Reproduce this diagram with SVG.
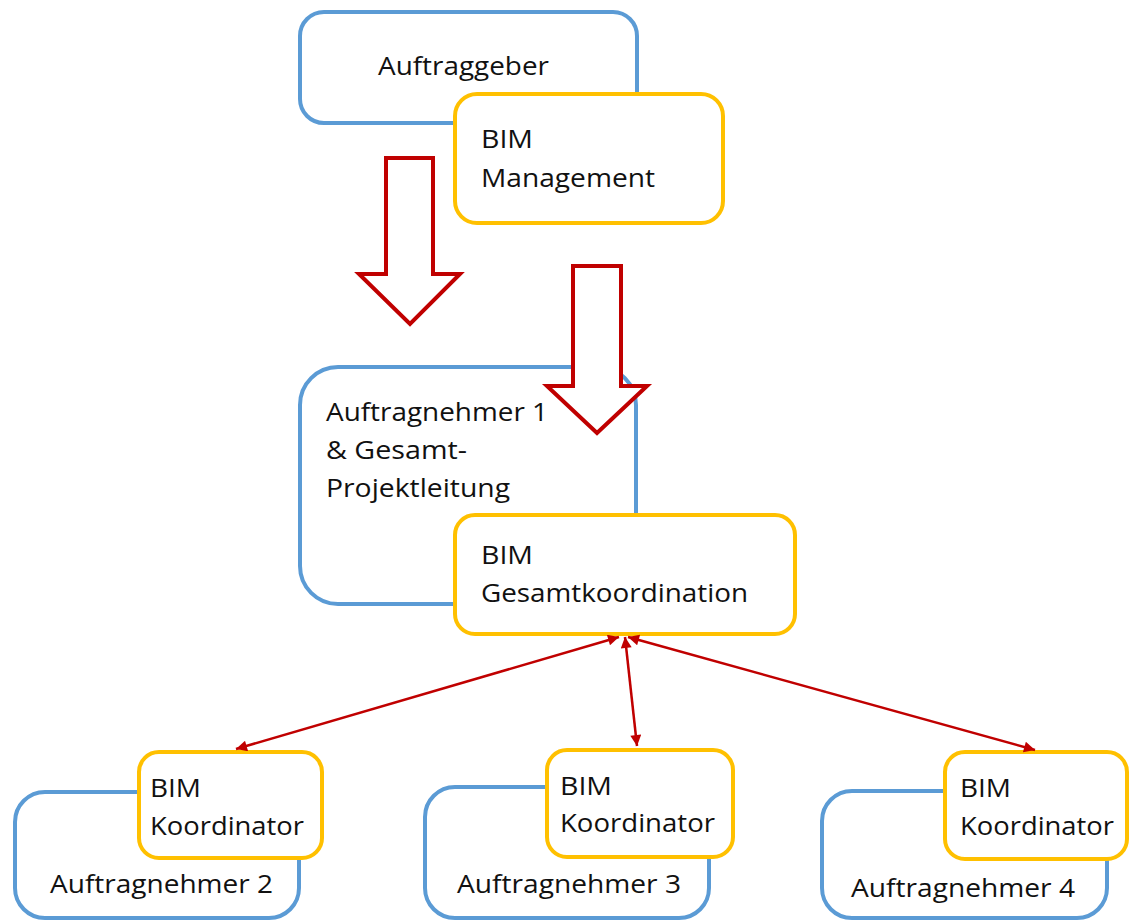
<svg xmlns="http://www.w3.org/2000/svg" width="1132" height="922" viewBox="0 0 1132 922">
<style>
.blue{fill:#fff;stroke:#5B9BD5;stroke-width:4}
.yel{fill:#fff;stroke:#FFC000;stroke-width:4}
.blk{fill:#fff;stroke:#C00000;stroke-width:4;stroke-linejoin:miter}
.t{font-family:"Open Sans","Noto Sans","Liberation Sans",sans-serif;font-size:26px;fill:#111}
.con{stroke:#C00000;stroke-width:2.5;fill:none}
</style>
<defs>
<marker id="ah" viewBox="0 0 10 10" refX="10" refY="5" markerWidth="14" markerHeight="11" markerUnits="userSpaceOnUse" orient="auto-start-reverse">
<path d="M0,0 L10,5 L0,10 z" fill="#C00000"/>
</marker>
</defs>
<rect width="1132" height="922" fill="#fff"/>
<g id="auftraggeber">
<rect class="blue" x="300" y="12" width="337" height="111" rx="24"/>
<text class="t" x="378" y="75" textLength="171" lengthAdjust="spacingAndGlyphs">Auftraggeber</text>
</g>
<g id="bim-management">
<rect class="yel" x="455" y="94" width="268" height="129" rx="22"/>
<text class="t" x="481" y="148" textLength="52" lengthAdjust="spacingAndGlyphs">BIM</text>
<text class="t" x="481" y="187" textLength="174" lengthAdjust="spacingAndGlyphs">Management</text>
</g>
<g id="auftragnehmer1">
<rect class="blue" x="300" y="367" width="336" height="237" rx="38"/>
<text class="t" x="326" y="421" textLength="222" lengthAdjust="spacingAndGlyphs">Auftragnehmer 1</text>
<text class="t" x="326" y="459" textLength="141" lengthAdjust="spacingAndGlyphs">&amp; Gesamt-</text>
<text class="t" x="326" y="497" textLength="184" lengthAdjust="spacingAndGlyphs">Projektleitung</text>
</g>
<g id="block-arrows">
<polygon class="blk" points="386,158 433,158 433,274 460,274 410,324 359,274 386,274"/>
<polygon class="blk" points="573,266 621,266 621,386 647,386 597,433 547,386 573,386"/>
</g>
<g id="bim-gesamtkoordination">
<rect class="yel" x="455" y="515" width="340" height="119" rx="20"/>
<text class="t" x="481" y="564" textLength="52" lengthAdjust="spacingAndGlyphs">BIM</text>
<text class="t" x="481" y="602" textLength="267" lengthAdjust="spacingAndGlyphs">Gesamtkoordination</text>
</g>
<g id="auftragnehmer2">
<rect class="blue" x="15" y="792" width="284" height="126" rx="30"/>
<text class="t" x="50" y="893" textLength="223" lengthAdjust="spacingAndGlyphs">Auftragnehmer 2</text>
</g>
<g id="koordinator2">
<rect class="yel" x="139" y="752" width="183" height="106" rx="20"/>
<text class="t" x="150" y="797" textLength="51" lengthAdjust="spacingAndGlyphs">BIM</text>
<text class="t" x="150" y="835" textLength="154" lengthAdjust="spacingAndGlyphs">Koordinator</text>
</g>
<g id="auftragnehmer3">
<rect class="blue" x="425" y="787" width="284" height="131" rx="30"/>
<text class="t" x="457" y="893" textLength="224" lengthAdjust="spacingAndGlyphs">Auftragnehmer 3</text>
</g>
<g id="koordinator3">
<rect class="yel" x="547" y="750" width="186" height="107" rx="20"/>
<text class="t" x="560" y="795" textLength="52" lengthAdjust="spacingAndGlyphs">BIM</text>
<text class="t" x="560" y="832" textLength="155" lengthAdjust="spacingAndGlyphs">Koordinator</text>
</g>
<g id="auftragnehmer4">
<rect class="blue" x="822" y="791" width="285" height="127" rx="30"/>
<text class="t" x="851" y="897" textLength="224" lengthAdjust="spacingAndGlyphs">Auftragnehmer 4</text>
</g>
<g id="koordinator4">
<rect class="yel" x="945" y="752" width="182" height="107" rx="20"/>
<text class="t" x="960" y="797" textLength="51" lengthAdjust="spacingAndGlyphs">BIM</text>
<text class="t" x="960" y="835" textLength="154" lengthAdjust="spacingAndGlyphs">Koordinator</text>
</g>
<g id="connectors">
<line class="con" x1="619" y1="637" x2="236" y2="749" marker-start="url(#ah)" marker-end="url(#ah)"/>
<line class="con" x1="625" y1="637" x2="637" y2="746" marker-start="url(#ah)" marker-end="url(#ah)"/>
<line class="con" x1="628" y1="637" x2="1035" y2="750" marker-start="url(#ah)" marker-end="url(#ah)"/>
</g>
</svg>
